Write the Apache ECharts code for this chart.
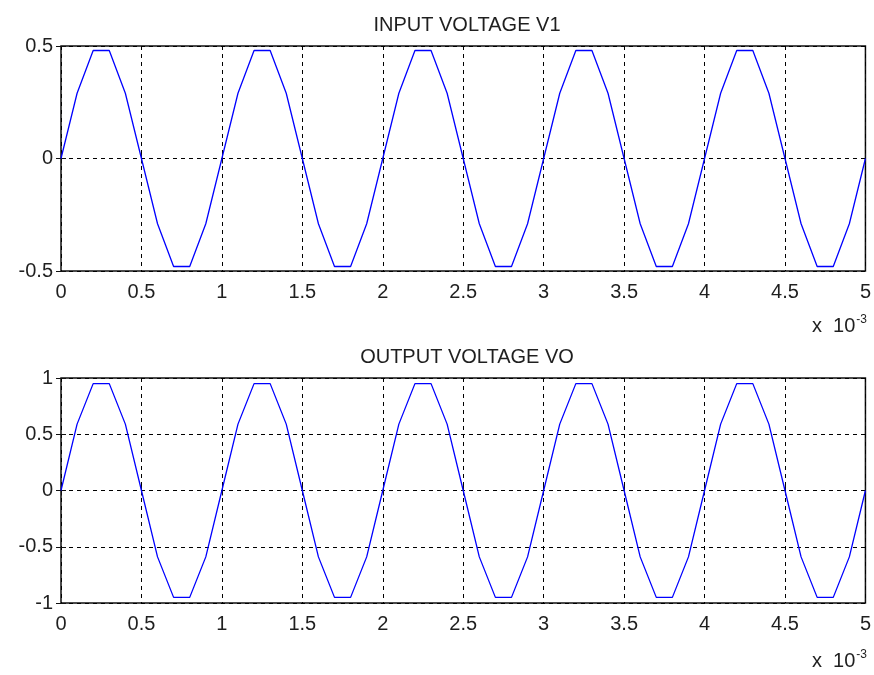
<!DOCTYPE html>
<html>
<head>
<meta charset="utf-8">
<title>Input / output voltage</title>
<script src="https://cdn.jsdelivr.net/npm/echarts@6/dist/echarts.min.js"></script>
<style>
  html, body { margin: 0; padding: 0; background: #fff; }
  #chart { width: 874px; height: 675px; }
</style>
</head>
<body>
<div id="chart"></div>
<script>
// time in ms (axis shows x 10^-3 s)
var time = [0, 0.1, 0.2, 0.3, 0.4, 0.5, 0.6, 0.7, 0.8, 0.9,
  1, 1.1, 1.2, 1.3, 1.4, 1.5, 1.6, 1.7, 1.8, 1.9,
  2, 2.1, 2.2, 2.3, 2.4, 2.5, 2.6, 2.7, 2.8, 2.9,
  3, 3.1, 3.2, 3.3, 3.4, 3.5, 3.6, 3.7, 3.8, 3.9,
  4, 4.1, 4.2, 4.3, 4.4, 4.5, 4.6, 4.7, 4.8, 4.9, 5]

var inputV1 = [0, 0.29, 0.48, 0.48, 0.29, 0, -0.29, -0.48, -0.48, -0.29,
  0, 0.29, 0.48, 0.48, 0.29, 0, -0.29, -0.48, -0.48, -0.29,
  0, 0.29, 0.48, 0.48, 0.29, 0, -0.29, -0.48, -0.48, -0.29,
  0, 0.29, 0.48, 0.48, 0.29, 0, -0.29, -0.48, -0.48, -0.29,
  0, 0.29, 0.48, 0.48, 0.29, 0, -0.29, -0.48, -0.48, -0.29, 0]

var outputVO = [0, 0.59, 0.95, 0.95, 0.59, 0, -0.59, -0.95, -0.95, -0.59,
  0, 0.59, 0.95, 0.95, 0.59, 0, -0.59, -0.95, -0.95, -0.59,
  0, 0.59, 0.95, 0.95, 0.59, 0, -0.59, -0.95, -0.95, -0.59,
  0, 0.59, 0.95, 0.95, 0.59, 0, -0.59, -0.95, -0.95, -0.59,
  0, 0.59, 0.95, 0.95, 0.59, 0, -0.59, -0.95, -0.95, -0.59, 0]

var titles = ['INPUT VOLTAGE V1', 'OUTPUT VOLTAGE VO']
var yRanges = [[-0.5, 0.5], [-1, 1]]

var font = 'Liberation Sans, Arial, sans-serif'
var textColor = '#1f1f1f'

function pairs(ys) {
  return time.map(function (t, i) { return [t, ys[i]] })
}

var gridTops = [46, 378]
var grids = gridTops.map(function (top) {
  return {
    left: 61, top: top, width: 806, height: 225,
    show: true, borderColor: '#111', borderWidth: 1.5, backgroundColor: '#fff'
  }
})

var dashed = { show: true, lineStyle: { color: '#000', type: [4, 4], width: 1 } }
var tick = { show: true, inside: true, length: 5, lineStyle: { color: '#111' } }
var xAxes = [], yAxes = []
for (var g = 0; g < 2; g++) {
  // bottom axis with labels + grid
  xAxes.push({
    type: 'value', gridIndex: g, min: 0, max: 5, interval: 0.5,
    axisLine: { show: false }, axisTick: tick,
    axisLabel: { color: textColor, fontSize: 20, fontFamily: font, margin: 11 },
    splitLine: dashed
  })
  // mirrored top ticks
  xAxes.push({
    type: 'value', gridIndex: g, position: 'top', min: 0, max: 5, interval: 0.5,
    axisLine: { show: false }, axisTick: tick,
    axisLabel: { show: false }, splitLine: { show: false }
  })
  yAxes.push({
    type: 'value', gridIndex: g, min: yRanges[g][0], max: yRanges[g][1], interval: 0.5,
    axisLine: { show: false }, axisTick: tick,
    axisLabel: { color: textColor, fontSize: 20, fontFamily: font, margin: 8 },
    splitLine: dashed
  })
  yAxes.push({
    type: 'value', gridIndex: g, position: 'right', min: yRanges[g][0], max: yRanges[g][1], interval: 0.5,
    axisLine: { show: false }, axisTick: tick,
    axisLabel: { show: false }, splitLine: { show: false }
  })
}

function multiplier(y) {
  return {
    type: 'text', right: 7, top: y,
    style: {
      text: '{b|x  10}{s|-3}',
      rich: {
        b: { fontSize: 20, fontFamily: font, fill: textColor, color: textColor, verticalAlign: 'bottom' },
        s: { fontSize: 12, fontFamily: font, fill: textColor, color: textColor, verticalAlign: 'top', padding: [0, 0, 10, 1] }
      }
    }
  }
}

var option = {
  animation: false,
  backgroundColor: '#fff',
  title: titles.map(function (t, i) {
    return {
      text: t, left: 462, textAlign: 'center', top: [10, 342][i],
      textStyle: { fontSize: 20, fontWeight: 'normal', fontFamily: font, color: textColor }
    }
  }),
  grid: grids,
  xAxis: xAxes,
  yAxis: yAxes,
  graphic: [multiplier(314), multiplier(649)],
  series: [
    {
      type: 'line', xAxisIndex: 0, yAxisIndex: 0, data: pairs(inputV1),
      showSymbol: false, lineStyle: { color: '#0000ff', width: 1.3 }, z: 5
    },
    {
      type: 'line', xAxisIndex: 2, yAxisIndex: 2, data: pairs(outputVO),
      showSymbol: false, lineStyle: { color: '#0000ff', width: 1.3 }, z: 5
    }
  ]
}

var chart = echarts.init(document.getElementById('chart'))
chart.setOption(option)
</script>
</body>
</html>
